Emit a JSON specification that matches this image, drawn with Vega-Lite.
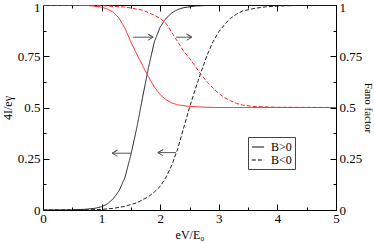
{
  "$schema": "https://vega.github.io/schema/vega-lite/v6.json",
  "width": 293,
  "height": 205,
  "autosize": {"type": "none"},
  "padding": {"left": 43, "top": 5, "right": 38, "bottom": 33},
  "background": "white",
  "config": {
    "view": {"stroke": "black", "strokeWidth": 1},
    "font": "Liberation Serif",
    "axis": {
      "grid": false,
      "domainColor": "black",
      "tickColor": "black",
      "labelColor": "black",
      "titleColor": "black",
      "labelFont": "Liberation Serif",
      "titleFont": "Liberation Serif",
      "labelFontSize": 13,
      "titleFontSize": 12,
      "titleFontWeight": "normal",
      "labelFlush": false,
      "labelOverlap": false
    },
    "legend": {
      "orient": "none",
      "legendX": 205,
      "legendY": 132,
      "strokeColor": "#444",
      "fillColor": "white",
      "padding": 3,
      "labelFont": "Liberation Serif",
      "labelFontSize": 12,
      "labelColor": "black",
      "symbolType": "stroke",
      "symbolStrokeColor": "black",
      "symbolStrokeWidth": 1,
      "symbolSize": 150,
      "rowPadding": 0,
      "labelOffset": 6
    }
  },
  "datasets": {
    "curves": [
      {"q": "I", "B": "B>0", "x": 0, "y": 0},
      {"q": "I", "B": "B>0", "x": 0.5, "y": 0.0005},
      {"q": "I", "B": "B>0", "x": 0.75, "y": 0.004},
      {"q": "I", "B": "B>0", "x": 0.9, "y": 0.009},
      {"q": "I", "B": "B>0", "x": 1.0, "y": 0.016},
      {"q": "I", "B": "B>0", "x": 1.1, "y": 0.03},
      {"q": "I", "B": "B>0", "x": 1.2, "y": 0.055},
      {"q": "I", "B": "B>0", "x": 1.3, "y": 0.095},
      {"q": "I", "B": "B>0", "x": 1.4, "y": 0.16},
      {"q": "I", "B": "B>0", "x": 1.5, "y": 0.27},
      {"q": "I", "B": "B>0", "x": 1.6, "y": 0.4},
      {"q": "I", "B": "B>0", "x": 1.7, "y": 0.55},
      {"q": "I", "B": "B>0", "x": 1.8, "y": 0.695},
      {"q": "I", "B": "B>0", "x": 1.9, "y": 0.82},
      {"q": "I", "B": "B>0", "x": 2.0, "y": 0.893},
      {"q": "I", "B": "B>0", "x": 2.1, "y": 0.935},
      {"q": "I", "B": "B>0", "x": 2.2, "y": 0.962},
      {"q": "I", "B": "B>0", "x": 2.3, "y": 0.978},
      {"q": "I", "B": "B>0", "x": 2.4, "y": 0.987},
      {"q": "I", "B": "B>0", "x": 2.6, "y": 0.995},
      {"q": "I", "B": "B>0", "x": 2.8, "y": 0.998},
      {"q": "I", "B": "B>0", "x": 3.0, "y": 0.999},
      {"q": "I", "B": "B>0", "x": 3.5, "y": 1},
      {"q": "I", "B": "B>0", "x": 5, "y": 1},
      {"q": "I", "B": "B<0", "x": 0, "y": 0},
      {"q": "I", "B": "B<0", "x": 0.8, "y": 0.001},
      {"q": "I", "B": "B<0", "x": 1.0, "y": 0.003},
      {"q": "I", "B": "B<0", "x": 1.2, "y": 0.008},
      {"q": "I", "B": "B<0", "x": 1.4, "y": 0.018},
      {"q": "I", "B": "B<0", "x": 1.6, "y": 0.035},
      {"q": "I", "B": "B<0", "x": 1.8, "y": 0.065},
      {"q": "I", "B": "B<0", "x": 1.9, "y": 0.088},
      {"q": "I", "B": "B<0", "x": 2.0, "y": 0.115},
      {"q": "I", "B": "B<0", "x": 2.1, "y": 0.16},
      {"q": "I", "B": "B<0", "x": 2.2, "y": 0.22},
      {"q": "I", "B": "B<0", "x": 2.3, "y": 0.3},
      {"q": "I", "B": "B<0", "x": 2.4, "y": 0.4},
      {"q": "I", "B": "B<0", "x": 2.5, "y": 0.5},
      {"q": "I", "B": "B<0", "x": 2.6, "y": 0.59},
      {"q": "I", "B": "B<0", "x": 2.7, "y": 0.675},
      {"q": "I", "B": "B<0", "x": 2.8, "y": 0.755},
      {"q": "I", "B": "B<0", "x": 2.9, "y": 0.82},
      {"q": "I", "B": "B<0", "x": 3.0, "y": 0.87},
      {"q": "I", "B": "B<0", "x": 3.1, "y": 0.905},
      {"q": "I", "B": "B<0", "x": 3.2, "y": 0.935},
      {"q": "I", "B": "B<0", "x": 3.3, "y": 0.955},
      {"q": "I", "B": "B<0", "x": 3.4, "y": 0.97},
      {"q": "I", "B": "B<0", "x": 3.6, "y": 0.983},
      {"q": "I", "B": "B<0", "x": 3.8, "y": 0.991},
      {"q": "I", "B": "B<0", "x": 4.0, "y": 0.995},
      {"q": "I", "B": "B<0", "x": 4.5, "y": 0.999},
      {"q": "I", "B": "B<0", "x": 5, "y": 1},
      {"q": "F", "B": "B>0", "x": 0, "y": 1},
      {"q": "F", "B": "B>0", "x": 0.5, "y": 0.9995},
      {"q": "F", "B": "B>0", "x": 0.8, "y": 0.997},
      {"q": "F", "B": "B>0", "x": 1.0, "y": 0.99},
      {"q": "F", "B": "B>0", "x": 1.1, "y": 0.98},
      {"q": "F", "B": "B>0", "x": 1.2, "y": 0.965},
      {"q": "F", "B": "B>0", "x": 1.3, "y": 0.935},
      {"q": "F", "B": "B>0", "x": 1.4, "y": 0.885},
      {"q": "F", "B": "B>0", "x": 1.5, "y": 0.82},
      {"q": "F", "B": "B>0", "x": 1.6, "y": 0.76},
      {"q": "F", "B": "B>0", "x": 1.7, "y": 0.705},
      {"q": "F", "B": "B>0", "x": 1.8, "y": 0.65},
      {"q": "F", "B": "B>0", "x": 1.9, "y": 0.6},
      {"q": "F", "B": "B>0", "x": 2.0, "y": 0.563},
      {"q": "F", "B": "B>0", "x": 2.1, "y": 0.538},
      {"q": "F", "B": "B>0", "x": 2.2, "y": 0.522},
      {"q": "F", "B": "B>0", "x": 2.3, "y": 0.513},
      {"q": "F", "B": "B>0", "x": 2.5, "y": 0.505},
      {"q": "F", "B": "B>0", "x": 2.8, "y": 0.501},
      {"q": "F", "B": "B>0", "x": 3.0, "y": 0.5},
      {"q": "F", "B": "B>0", "x": 5, "y": 0.5},
      {"q": "F", "B": "B<0", "x": 0, "y": 1},
      {"q": "F", "B": "B<0", "x": 1.0, "y": 0.997},
      {"q": "F", "B": "B<0", "x": 1.4, "y": 0.99},
      {"q": "F", "B": "B<0", "x": 1.7, "y": 0.975},
      {"q": "F", "B": "B<0", "x": 1.9, "y": 0.95},
      {"q": "F", "B": "B<0", "x": 2.0, "y": 0.935},
      {"q": "F", "B": "B<0", "x": 2.1, "y": 0.91},
      {"q": "F", "B": "B<0", "x": 2.2, "y": 0.865},
      {"q": "F", "B": "B<0", "x": 2.3, "y": 0.82},
      {"q": "F", "B": "B<0", "x": 2.4, "y": 0.775},
      {"q": "F", "B": "B<0", "x": 2.5, "y": 0.74},
      {"q": "F", "B": "B<0", "x": 2.6, "y": 0.7},
      {"q": "F", "B": "B<0", "x": 2.7, "y": 0.66},
      {"q": "F", "B": "B<0", "x": 2.8, "y": 0.625},
      {"q": "F", "B": "B<0", "x": 2.9, "y": 0.595},
      {"q": "F", "B": "B<0", "x": 3.0, "y": 0.568},
      {"q": "F", "B": "B<0", "x": 3.1, "y": 0.548},
      {"q": "F", "B": "B<0", "x": 3.2, "y": 0.533},
      {"q": "F", "B": "B<0", "x": 3.3, "y": 0.52},
      {"q": "F", "B": "B<0", "x": 3.4, "y": 0.512},
      {"q": "F", "B": "B<0", "x": 3.6, "y": 0.505},
      {"q": "F", "B": "B<0", "x": 4.0, "y": 0.501},
      {"q": "F", "B": "B<0", "x": 5, "y": 0.5}
    ],
    "arrows": [
      {"a": 1, "o": 1, "x": 1.54, "y": 0.843},
      {"a": 1, "o": 2, "x": 1.88, "y": 0.843},
      {"a": 1, "o": 3, "x": 1.79, "y": 0.858},
      {"a": 1, "o": 4, "x": 1.88, "y": 0.843},
      {"a": 1, "o": 5, "x": 1.79, "y": 0.828},
      {"a": 2, "o": 1, "x": 2.27, "y": 0.843},
      {"a": 2, "o": 2, "x": 2.54, "y": 0.843},
      {"a": 2, "o": 3, "x": 2.45, "y": 0.858},
      {"a": 2, "o": 4, "x": 2.54, "y": 0.843},
      {"a": 2, "o": 5, "x": 2.45, "y": 0.828},
      {"a": 3, "o": 1, "x": 1.5, "y": 0.277},
      {"a": 3, "o": 2, "x": 1.18, "y": 0.277},
      {"a": 3, "o": 3, "x": 1.27, "y": 0.292},
      {"a": 3, "o": 4, "x": 1.18, "y": 0.277},
      {"a": 3, "o": 5, "x": 1.27, "y": 0.262},
      {"a": 4, "o": 1, "x": 2.27, "y": 0.28},
      {"a": 4, "o": 2, "x": 1.96, "y": 0.28},
      {"a": 4, "o": 3, "x": 2.05, "y": 0.295},
      {"a": 4, "o": 4, "x": 1.96, "y": 0.28},
      {"a": 4, "o": 5, "x": 2.05, "y": 0.265}
    ]
  },
  "resolve": {"axis": {"x": "independent", "y": "independent"}},
  "layer": [
    {
      "data": {"name": "curves"},
      "transform": [{"filter": "datum.q === 'I'"}],
      "mark": {"type": "line", "color": "#222", "strokeWidth": 1, "clip": true},
      "encoding": {
        "x": {
          "field": "x", "type": "quantitative",
          "scale": {"domain": [0, 5], "nice": false},
          "axis": {
            "orient": "bottom", "title": "eV/E₀",
            "values": [0, 0.5, 1, 1.5, 2, 2.5, 3, 3.5, 4, 4.5, 5],
            "tickSize": {"condition": {"test": "datum.value % 1 === 0", "value": -6}, "value": -3},
            "labelExpr": "datum.value % 1 === 0 ? format(datum.value, '~g') : ''",
            "labelPadding": 8,
            "titlePadding": 1
          }
        },
        "y": {
          "field": "y", "type": "quantitative",
          "scale": {"domain": [0, 1], "nice": false},
          "axis": {
            "orient": "left", "title": "4I/eγ",
            "values": [0, 0.125, 0.25, 0.375, 0.5, 0.625, 0.75, 0.875, 1],
            "tickSize": {"condition": {"test": "datum.value % 0.25 === 0", "value": -6}, "value": -3},
            "labelExpr": "datum.value % 0.25 === 0 ? format(datum.value, '~g') : ''",
            "labelOffset": {"condition": {"test": "datum.value === 1", "value": 2}, "value": 0},
            "labelPadding": 9,
            "titleX": -36,
            "titleBaseline": "middle"
          }
        },
        "strokeDash": {
          "field": "B", "type": "nominal",
          "scale": {"domain": ["B>0", "B<0"], "range": [[1, 0], [4, 2]]},
          "legend": {"title": null}
        }
      }
    },
    {
      "data": {"name": "curves"},
      "transform": [{"filter": "datum.q === 'F'"}],
      "mark": {"type": "line", "color": "#ff2020", "strokeWidth": 1, "clip": true},
      "encoding": {
        "x": {
          "field": "x", "type": "quantitative",
          "scale": {"domain": [0, 5], "nice": false},
          "axis": {
            "orient": "top", "title": null, "labels": false,
            "values": [0, 0.5, 1, 1.5, 2, 2.5, 3, 3.5, 4, 4.5, 5],
            "tickSize": {"condition": {"test": "datum.value % 1 === 0", "value": -6}, "value": -3}
          }
        },
        "y": {
          "field": "y", "type": "quantitative",
          "scale": {"domain": [0, 1], "nice": false},
          "axis": {
            "orient": "right", "title": "Fano factor",
            "values": [0, 0.125, 0.25, 0.375, 0.5, 0.625, 0.75, 0.875, 1],
            "tickSize": {"condition": {"test": "datum.value % 0.25 === 0", "value": -6}, "value": -3},
            "labelExpr": "datum.value % 0.25 === 0 ? format(datum.value, '~g') : ''",
            "labelOffset": {"condition": {"test": "datum.value === 1", "value": 2}, "value": 0},
            "labelPadding": 9,
            "titleX": 31,
            "titleBaseline": "middle",
            "titleFontSize": 11
          }
        },
        "strokeDash": {
          "field": "B", "type": "nominal",
          "scale": {"domain": ["B>0", "B<0"], "range": [[1, 0], [4, 2]]},
          "legend": {"title": null}
        }
      }
    },
    {
      "data": {"name": "arrows"},
      "mark": {"type": "line", "color": "#555", "strokeWidth": 1},
      "encoding": {
        "x": {"field": "x", "type": "quantitative", "axis": null},
        "y": {"field": "y", "type": "quantitative", "axis": null},
        "detail": {"field": "a", "type": "nominal"},
        "order": {"field": "o", "type": "quantitative"}
      }
    }
  ]
}
